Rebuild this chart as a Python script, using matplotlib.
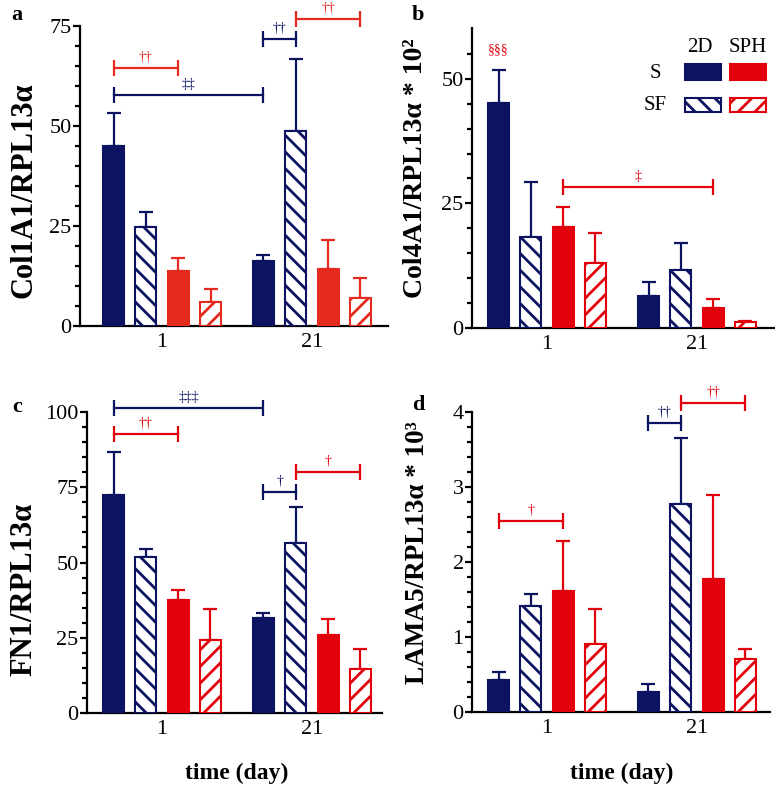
import numpy as np
import matplotlib
matplotlib.use('Agg')
from matplotlib import pyplot as plt
from matplotlib.patches import Rectangle
from matplotlib.ticker import FixedLocator

plt.rcParams['font.family'] = ['Liberation Serif', 'DejaVu Serif']
plt.rcParams['hatch.linewidth'] = 2.0

# --- данные (среднее и SEM), строки: день 1, день 21; столбцы: S 2D, SF 2D, S SPH, SF SPH ---
days = ['1', '21']
groups = ['S 2D', 'SF 2D', 'S SPH', 'SF SPH']

col1a1_mean = [[45.1, 24.8, 13.8, 6.1], [16.2, 48.8, 14.2, 7.1]]
col1a1_sem = [[8.1, 3.7, 3.3, 3.1], [1.5, 17.9, 7.3, 4.8]]

col4a1_mean = [[45.2, 18.3, 20.3, 13.0], [6.5, 11.7, 4.1, 1.3]]
col4a1_sem = [[6.6, 10.9, 3.9, 6.0], [2.8, 5.3, 1.7, 0.2]]

fn1_mean = [[72.5, 51.7, 37.7, 24.2], [31.7, 56.4, 25.9, 14.5]]
fn1_sem = [[14.1, 2.7, 3.1, 10.4], [1.4, 12.2, 5.4, 6.6]]

lama5_mean = [[0.43, 1.41, 1.62, 0.91], [0.27, 2.77, 1.78, 0.71]]
lama5_sem = [[0.11, 0.16, 0.66, 0.47], [0.11, 0.88, 1.12, 0.13]]

# скобки значимости: (день1, столбец1, день2, столбец2, y, символ, цвет)
col1a1_sig = [(0, 0, 0, 2, 64.5, '††', 'r'), (0, 0, 1, 0, 57.75, '‡‡', 'b'),
              (1, 0, 1, 1, 71.75, '††', 'b'), (1, 1, 1, 3, 76.75, '††', 'r')]
col4a1_sig = [(0, 2, 1, 2, 28.3, '‡', 'r')]
fn1_sig = [(0, 0, 1, 0, 101.3, '‡‡‡', 'b'), (0, 0, 0, 2, 92.7, '††', 'r'),
           (1, 0, 1, 1, 73.4, '†', 'b'), (1, 1, 1, 3, 80.0, '†', 'r')]
lama5_sig = [(0, 0, 0, 2, 2.55, '†', 'r'), (1, 0, 1, 1, 3.85, '††', 'b'),
             (1, 1, 1, 3, 4.12, '††', 'r')]

NAVY = '#0c1462'
RED_A = '#e52a1f'
RED = '#e2000c'
HATCH_B = '\\\\'
HATCH_R = '//'

W, H = 775, 788
fig = plt.figure(figsize=(W / 100, H / 100), dpi=100)

offsets = np.array([-0.3233, -0.1083, 0.1083, 0.3233])
bw = 0.142


def px_axes(l, t, r, b):
    return fig.add_axes([l / W, 1 - b / H, (r - l) / W, (b - t) / H])


def panel(ax, mean, sem, red, ylim, yticks, minor, xlim, sig):
    mean = np.array(mean)
    sem = np.array(sem)
    cols = [NAVY, NAVY, red, red]
    hatches = [None, HATCH_B, None, HATCH_R]
    for d in range(len(days)):
        for g in range(len(groups)):
            x = d + offsets[g]
            solid = hatches[g] is None
            ax.bar(x, mean[d, g], width=bw, color=cols[g] if solid else 'white',
                   edgecolor=cols[g], linewidth=1.5, hatch=hatches[g], zorder=3)
            ax.errorbar(x, mean[d, g], yerr=[[0], [sem[d, g]]], fmt='none',
                        ecolor=cols[g], elinewidth=1.6, capsize=5, capthick=1.6,
                        zorder=2)
    for d1, g1, d2, g2, y, lab, c in sig:
        c = NAVY if c == 'b' else red
        x1, x2 = d1 + offsets[g1], d2 + offsets[g2]
        ax.plot([x1, x2], [y, y], color=c, lw=1.6, clip_on=False, zorder=4)
        ax.plot([x1, x2], [y, y], ls='none', marker='|', ms=12, mew=1.6,
                color=c, clip_on=False, zorder=4)
        ax.annotate(lab, ((x1 + x2) / 2, y), xytext=(0, 3), textcoords='offset points',
                    ha='center', va='bottom', color=c, fontsize=10,
                    annotation_clip=False)
    ax.set_xlim(*xlim)
    ax.set_ylim(*ylim)
    ax.set_yticks(yticks)
    ax.yaxis.set_minor_locator(FixedLocator(minor))
    ax.set_xticks([0, 1])
    ax.set_xticklabels(days)
    for s in ['top', 'right']:
        ax.spines[s].set_visible(False)
    for s in ['left', 'bottom']:
        ax.spines[s].set_linewidth(1.6)
    ax.tick_params(axis='y', which='major', length=5, width=1.6, labelsize=16, pad=1)
    ax.tick_params(axis='y', which='minor', length=3.5, width=1.6)
    ax.tick_params(axis='x', length=0, labelsize=16, pad=5)


ax_a = px_axes(80, 26, 388, 326)
panel(ax_a, col1a1_mean, col1a1_sem, RED_A, (0, 75), [0, 25, 50, 75],
      np.arange(5, 75, 5), (-0.547, 1.507), col1a1_sig)

ax_b = px_axes(472, 28, 775, 328)
panel(ax_b, col4a1_mean, col4a1_sem, RED, (0, 60.2), [0, 25, 50],
      [5, 10, 15, 20, 30, 35, 40, 45, 55], (-0.5, 1.52), col4a1_sig)
ax_b.annotate('§§§', (offsets[0], col4a1_mean[0][0] + col4a1_sem[0][0]), xytext=(0, 10),
              textcoords='offset points', ha='center', va='bottom', color=RED,
              fontsize=10)

ax_c = px_axes(87, 412, 382, 713)
panel(ax_c, fn1_mean, fn1_sem, RED, (0, 100), [0, 25, 50, 75, 100],
      [m for m in range(5, 100, 5) if m % 25], (-0.5, 1.467), fn1_sig)

ax_d = px_axes(472, 412, 770, 712)
panel(ax_d, lama5_mean, lama5_sem, RED, (0, 4), [0, 1, 2, 3, 4],
      [m / 5 for m in range(1, 20) if m % 5], (-0.5, 1.487), lama5_sig)

# подписи осей
ylabels = [(24, 190, 'Col1A1/RPL13α', 22), (416, 168, 'Col4A1/RPL13α * 10²', 20),
           (24, 589, 'FN1/RPL13α', 22), (418, 553, 'LAMA5/RPL13α * 10³', 19.5)]
for x, y, t, fs in ylabels:
    fig.text(x / W, 1 - y / H, t, rotation=90, ha='center', va='center',
             fontsize=fs, fontweight='bold')
for x in [237, 622]:
    fig.text(x / W, 1 - 773 / H, 'time (day)', ha='center', va='center',
             fontsize=17, fontweight='bold')
for x, y, t in [(17, 15, 'a'), (418, 15, 'b'), (17, 407, 'c'), (418, 405, 'd')]:
    fig.text(x / W, 1 - y / H, t, ha='center', va='center', fontsize=16,
             fontweight='bold')

# легенда
fig.text(700 / W, 1 - 48 / H, '2D', ha='center', va='center', fontsize=15)
fig.text(748 / W, 1 - 48 / H, 'SPH', ha='center', va='center', fontsize=15)
fig.text(655 / W, 1 - 73 / H, 'S', ha='center', va='center', fontsize=15)
fig.text(655 / W, 1 - 105 / H, 'SF', ha='center', va='center', fontsize=15)
for x0, c, h in [(685, NAVY, HATCH_B), (730, RED, HATCH_R)]:
    fig.add_artist(Rectangle((x0 / W, 1 - 80 / H), 36 / W, 16 / H, facecolor=c,
                             edgecolor=c, lw=1.5, transform=fig.transFigure))
    fig.add_artist(Rectangle((x0 / W, 1 - 112 / H), 36 / W, 14 / H, facecolor='white',
                             edgecolor=c, lw=1.5, hatch=h, transform=fig.transFigure))

fig.savefig('out.png', dpi=100)
